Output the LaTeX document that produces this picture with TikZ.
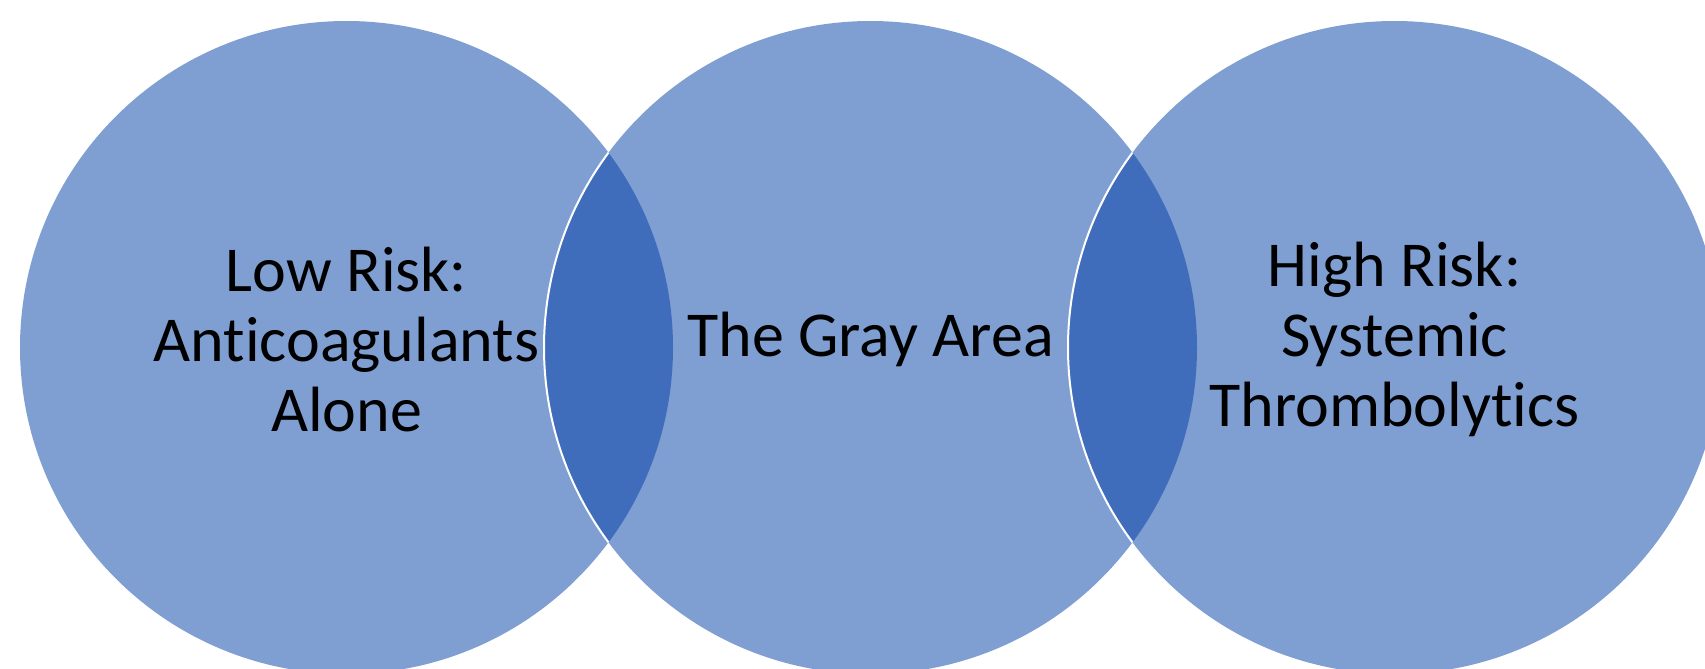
\documentclass[tikz,border=0pt]{standalone}
\usepackage{fontspec}
\setmainfont{Carlito}[Ligatures=NoCommon]
\usetikzlibrary{positioning}
\definecolor{vennlight}{HTML}{7F9FD3}
\definecolor{venndark}{HTML}{3F6DBB}

\begin{document}
\begin{tikzpicture}[
    risktext/.style={align=center, text=black, yshift=3.8pt, font=\fontsize{32}{35}\selectfont},
    rim/.style={white, line width=1pt}
]
    \useasboundingbox (0,0) rectangle (852.5pt,-334.5pt);
    \def\rad{163.25pt}
    \coordinate (cl) at (173.25pt,-173.75pt);
    \coordinate (cm) at (435.25pt,-173.75pt);
    \coordinate (cr) at (697.25pt,-173.75pt);

    % the three circles
    \foreach \c in {cl,cm,cr}
        \fill[vennlight] (\c) circle[radius=\rad];

    % overlaps
    \begin{scope}
        \clip (cl) circle[radius=\rad];
        \fill[venndark] (cm) circle[radius=\rad];
        \draw[rim] (cm) circle[radius=\rad];
    \end{scope}
    \begin{scope}
        \clip (cm) circle[radius=\rad];
        \fill[venndark] (cr) circle[radius=\rad];
        \draw[rim] (cr) circle[radius=\rad];
    \end{scope}

    \node[risktext] (low) at (cl) {Low Risk:\\Anticoagulants\\Alone};
    \node[risktext] (gray) at (cm) {The Gray Area};
    \node[risktext] (high) at (cr) {High Risk:\\Systemic\\Thrombolytics};
\end{tikzpicture}
\end{document}
